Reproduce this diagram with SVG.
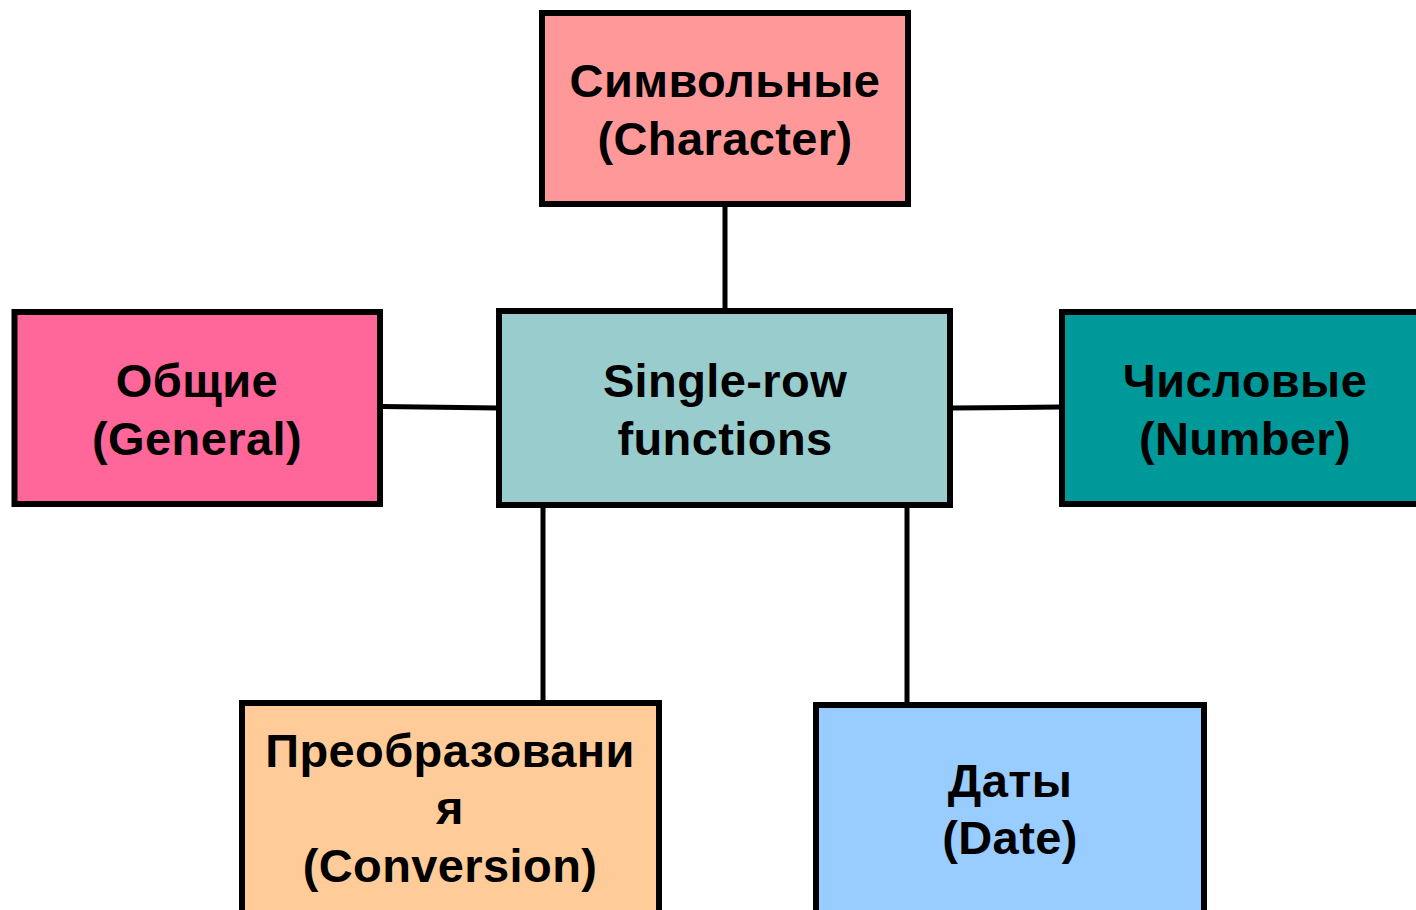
<svg xmlns="http://www.w3.org/2000/svg" width="1416" height="910" viewBox="0 0 1416 910">
<style>
.box{stroke:#000;stroke-width:6}
.lbl{font-family:"Liberation Sans",Arial,sans-serif;font-weight:bold;font-size:47px;letter-spacing:0.4px;fill:#000;text-anchor:middle}
.con{stroke:#000;stroke-width:5;fill:none}
</style>
<rect width="1416" height="910" fill="#fff"/>
<g id="connectors">
<line class="con" x1="725" y1="206" x2="725" y2="309"/>
<line class="con" x1="382" y1="406.5" x2="498" y2="408"/>
<line class="con" x1="952" y1="408" x2="1060" y2="407"/>
<line class="con" x1="543" y1="507" x2="543" y2="701"/>
<line class="con" x1="907" y1="507" x2="907" y2="703"/>
</g>
<g id="character">
<rect class="box" x="542" y="13" width="366" height="191" fill="#FF9999"/>
<text class="lbl" x="725" y="97">Символьные</text>
<text class="lbl" x="725" y="155">(Character)</text>
</g>
<g id="general">
<rect class="box" x="14.5" y="312" width="365.5" height="192" fill="#FF6699"/>
<text class="lbl" x="197" y="397">Общие</text>
<text class="lbl" x="197" y="455">(General)</text>
</g>
<g id="single-row">
<rect class="box" x="499" y="311" width="451" height="194" fill="#99CCCC"/>
<text class="lbl" x="725" y="397">Single-row</text>
<text class="lbl" x="725" y="455">functions</text>
</g>
<g id="number">
<rect class="box" x="1062" y="312" width="366" height="192" fill="#009999"/>
<text class="lbl" x="1245" y="397">Числовые</text>
<text class="lbl" x="1245" y="455">(Number)</text>
</g>
<g id="conversion">
<rect class="box" x="242" y="703" width="417" height="215" fill="#FFCC99"/>
<text class="lbl" x="450" y="767">Преобразовани</text>
<text class="lbl" x="450" y="824">я</text>
<text class="lbl" x="450" y="882">(Conversion)</text>
</g>
<g id="date">
<rect class="box" x="816" y="705" width="388" height="215" fill="#99CCFF"/>
<text class="lbl" x="1010" y="797">Даты</text>
<text class="lbl" x="1010" y="854">(Date)</text>
</g>
</svg>
